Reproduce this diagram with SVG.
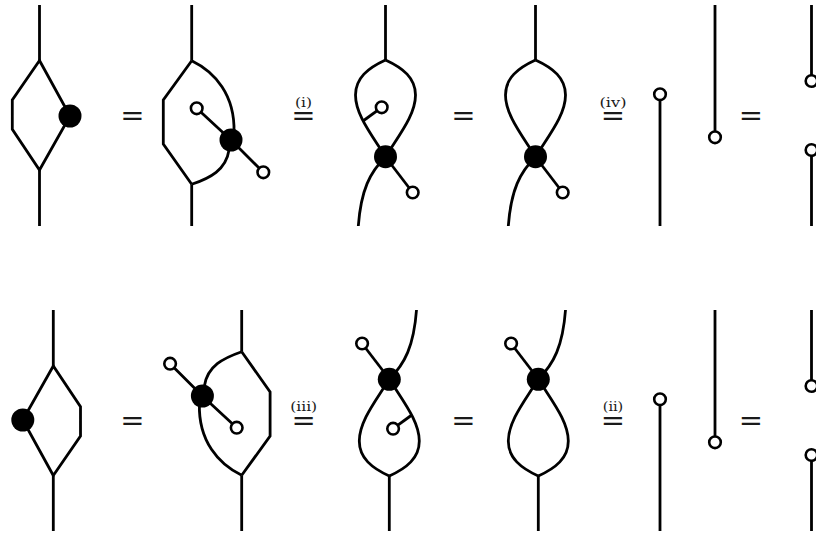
<svg xmlns="http://www.w3.org/2000/svg" width="816" height="533" viewBox="0 0 816 533">
<style>
.w{fill:none;stroke:#000;stroke-width:2.8;stroke-linejoin:miter;stroke-linecap:butt}
.dot{fill:#000}
.oc{fill:#fff;stroke:#000;stroke-width:2.6}
.eq{font-family:"DejaVu Sans",sans-serif;font-size:29px;fill:#1a1a1a;text-anchor:middle}
.lbt{fill:#1a1a1a;text-anchor:middle}
.lb{font-family:"DejaVu Serif",serif;font-size:13.5px}
.eqs{font-family:"DejaVu Sans",sans-serif;font-size:29px}
</style>
<rect width="816" height="533" fill="#fff"/>

<!-- TOP ROW -->
<g id="t1">
  <g id="t1-wires" class="w"><path d="M39.5,5V60.5M39.5,170V226"/><path d="M39.5,60.5L12.3,100L12.3,129.3L39.5,170L70,116Z"/></g>
  <g id="t1-dot"><circle class="dot" cx="70" cy="116" r="11.5"/></g>
</g>
<text class="eq" x="132.3" y="124.5">=</text>
<g id="t2">
  <g id="t2-wires" class="w">
    <path d="M191.7,5V60.7M191.7,184.3V226"/>
    <path d="M191.7,60.7L163.3,100L163.3,144L191.7,184.3"/>
    <path d="M191.7,60.7C215,72 235,95 234,132"/>
    <path d="M229,150C226,170 210,178 191.7,184.3"/>
    <path d="M196.7,108.3L231,140L263.3,172.3"/>
  </g>
  <g id="t2-dot"><circle class="dot" cx="231" cy="140" r="11.5"/></g>
  <g id="t2-oc1"><circle class="oc" cx="196.7" cy="108.3" r="5.8"/></g>
  <g id="t2-oc2"><circle class="oc" cx="263.3" cy="172.3" r="5.8"/></g>
</g>
<g id="eq-i"><text class="lbt"><tspan class="lb" x="303.5" y="106.5" textLength="17" lengthAdjust="spacingAndGlyphs">(i)</tspan><tspan class="eqs" x="303.5" y="124.5">=</tspan></text></g>
<g id="t3">
  <g id="t3-wires" class="w">
    <path d="M385.5,5V60"/>
    <path d="M385.5,60C368,68 355.5,78 355.5,95C355.5,115 372,135 385.5,157"/>
    <path d="M385.5,60C403,68 415.5,78 415.5,95C415.5,115 399,135 385.5,157"/>
    <path d="M363,121L381.7,107.3"/>
    <path d="M385.5,157C370,172 361,190 358.3,226"/>
    <path d="M385.5,157L412.7,192.5"/>
  </g>
  <g id="t3-dot"><circle class="dot" cx="385.5" cy="156.7" r="11.5"/></g>
  <g id="t3-oc1"><circle class="oc" cx="381.7" cy="107.3" r="5.8"/></g>
  <g id="t3-oc2"><circle class="oc" cx="412.7" cy="192.5" r="5.8"/></g>
</g>
<text class="eq" x="463.3" y="124.5">=</text>
<g id="t4" transform="translate(150,0)">
  <g id="t4-wires" class="w">
    <path d="M385.5,5V60"/>
    <path d="M385.5,60C368,68 355.5,78 355.5,95C355.5,115 372,135 385.5,157"/>
    <path d="M385.5,60C403,68 415.5,78 415.5,95C415.5,115 399,135 385.5,157"/>
    <path d="M385.5,157C370,172 361,190 358.3,226"/>
    <path d="M385.5,157L412.7,192.5"/>
  </g>
  <g id="t4-dot"><circle class="dot" cx="385.5" cy="156.7" r="11.5"/></g>
  <g id="t4-oc"><circle class="oc" cx="412.7" cy="192.5" r="5.8"/></g>
</g>
<g id="eq-iv"><text class="lbt"><tspan class="lb" x="613" y="106.5" textLength="27" lengthAdjust="spacingAndGlyphs">(iv)</tspan><tspan class="eqs" x="613" y="124.5">=</tspan></text></g>
<g id="t5">
  <g class="w"><path d="M660,94.3V226"/></g>
  <g id="t5-oc"><circle class="oc" cx="660" cy="94.3" r="5.8"/></g>
</g>
<g id="t6">
  <g class="w"><path d="M715,5V137.3"/></g>
  <g id="t6-oc"><circle class="oc" cx="715" cy="137.3" r="5.8"/></g>
</g>
<text class="eq" x="750.8" y="124.5">=</text>
<g id="t7">
  <g class="w"><path d="M811.5,5V81M811.5,150V226"/></g>
  <g id="t7-oc1"><circle class="oc" cx="811.5" cy="81" r="5.8"/></g>
  <g id="t7-oc2"><circle class="oc" cx="811.5" cy="150" r="5.8"/></g>
</g>

<!-- BOTTOM ROW -->
<g id="b1" transform="rotate(180 46.4 268)">
  <g id="b1-wires" class="w"><path d="M39.5,5V60.5M39.5,170V226"/><path d="M39.5,60.5L12.3,100L12.3,129.3L39.5,170L70,116Z"/></g>
  <g id="b1-dot"><circle class="dot" cx="70" cy="116" r="11.5"/></g>
</g>
<text class="eq" x="132.3" y="429.5">=</text>
<g id="b2" transform="rotate(180 216.7 268)">
  <g id="b2-wires" class="w">
    <path d="M191.7,5V60.7M191.7,184.3V226"/>
    <path d="M191.7,60.7L163.3,100L163.3,144L191.7,184.3"/>
    <path d="M191.7,60.7C215,72 235,95 234,132"/>
    <path d="M229,150C226,170 210,178 191.7,184.3"/>
    <path d="M196.7,108.3L231,140L263.3,172.3"/>
  </g>
  <g id="b2-dot"><circle class="dot" cx="231" cy="140" r="11.5"/></g>
  <g id="b2-oc1"><circle class="oc" cx="196.7" cy="108.3" r="5.8"/></g>
  <g id="b2-oc2"><circle class="oc" cx="263.3" cy="172.3" r="5.8"/></g>
</g>
<g id="eq-iii"><text class="lbt"><tspan class="lb" x="303.7" y="410.5" textLength="27" lengthAdjust="spacingAndGlyphs">(iii)</tspan><tspan class="eqs" x="303.7" y="429.5">=</tspan></text></g>
<g id="b3" transform="rotate(180 387.4 268)">
  <g id="b3-wires" class="w">
    <path d="M385.5,5V60"/>
    <path d="M385.5,60C368,68 355.5,78 355.5,95C355.5,115 372,135 385.5,157"/>
    <path d="M385.5,60C403,68 415.5,78 415.5,95C415.5,115 399,135 385.5,157"/>
    <path d="M363,121L381.7,107.3"/>
    <path d="M385.5,157C370,172 361,190 358.3,226"/>
    <path d="M385.5,157L412.7,192.5"/>
  </g>
  <g id="b3-dot"><circle class="dot" cx="385.5" cy="156.7" r="11.5"/></g>
  <g id="b3-oc1"><circle class="oc" cx="381.7" cy="107.3" r="5.8"/></g>
  <g id="b3-oc2"><circle class="oc" cx="412.7" cy="192.5" r="5.8"/></g>
</g>
<text class="eq" x="463.3" y="429.5">=</text>
<g id="b4" transform="rotate(180 536.9 268) translate(150,0)">
  <g id="b4-wires" class="w">
    <path d="M385.5,5V60"/>
    <path d="M385.5,60C368,68 355.5,78 355.5,95C355.5,115 372,135 385.5,157"/>
    <path d="M385.5,60C403,68 415.5,78 415.5,95C415.5,115 399,135 385.5,157"/>
    <path d="M385.5,157C370,172 361,190 358.3,226"/>
    <path d="M385.5,157L412.7,192.5"/>
  </g>
  <g id="b4-dot"><circle class="dot" cx="385.5" cy="156.7" r="11.5"/></g>
  <g id="b4-oc"><circle class="oc" cx="412.7" cy="192.5" r="5.8"/></g>
</g>
<g id="eq-ii"><text class="lbt"><tspan class="lb" x="613" y="410.5" textLength="20.5" lengthAdjust="spacingAndGlyphs">(ii)</tspan><tspan class="eqs" x="613" y="429.5">=</tspan></text></g>
<g id="b5" transform="translate(0,305)">
  <g class="w"><path d="M660,94.3V226"/></g>
  <g id="b5-oc"><circle class="oc" cx="660" cy="94.3" r="5.8"/></g>
</g>
<g id="b6" transform="translate(0,305)">
  <g class="w"><path d="M715,5V137.3"/></g>
  <g id="b6-oc"><circle class="oc" cx="715" cy="137.3" r="5.8"/></g>
</g>
<text class="eq" x="750.8" y="429.5">=</text>
<g id="b7" transform="translate(0,305)">
  <g class="w"><path d="M811.5,5V81M811.5,150V226"/></g>
  <g id="b7-oc1"><circle class="oc" cx="811.5" cy="81" r="5.8"/></g>
  <g id="b7-oc2"><circle class="oc" cx="811.5" cy="150" r="5.8"/></g>
</g>
</svg>
